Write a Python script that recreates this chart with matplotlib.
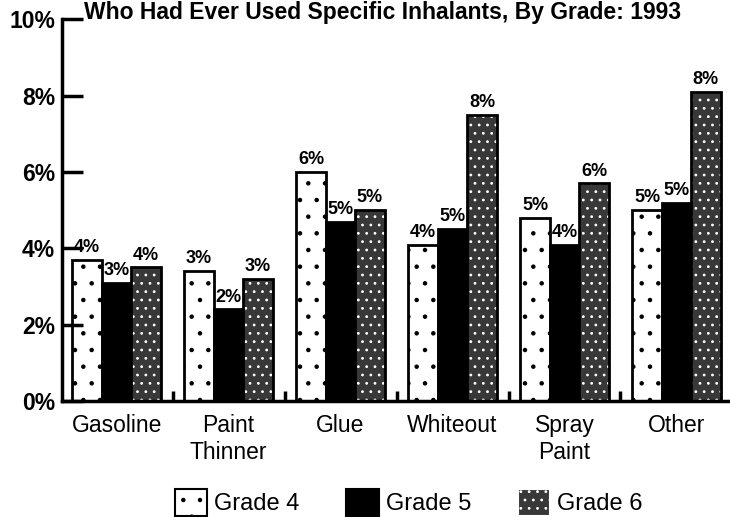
import numpy as np
import matplotlib.pyplot as plt
from matplotlib.patches import Patch

plt.rcParams['font.family'] = ['Liberation Sans', 'DejaVu Sans']
plt.rcParams['hatch.linewidth'] = 0.8

# ==== Data ====
title = "Who Had Ever Used Specific Inhalants, By Grade: 1993"
categories = ["Gasoline", "Paint\nThinner", "Glue", "Whiteout", "Spray\nPaint", "Other"]
grades = ["Grade 4", "Grade 5", "Grade 6"]
grade4 = [3.7, 3.4, 6.0, 4.1, 4.8, 5.0]
grade5 = [3.1, 2.4, 4.7, 4.5, 4.1, 5.2]
grade6 = [3.5, 3.2, 5.0, 7.5, 5.7, 8.1]
yticks = [0, 2, 4, 6, 8, 10]
# ===============

series = [grade4, grade5, grade6]
faces = ['white', 'black', '#383838']
hatches = ['.', None, '..']
hatch_cols = ['black', 'black', 'white']

fig = plt.figure(figsize=(7.3, 5.17), dpi=100)
ax = fig.add_axes([0.085, 0.224, 0.915, 0.739])

x = np.arange(len(categories))
width = 0.263
offsets = [-width, 0, width]

handles = []
for vals, face, hatch, hc, off, name in zip(series, faces, hatches, hatch_cols, offsets, grades):
    # fill + hatch (hatch colour follows edgecolor), then a black outline on top
    ax.bar(x + off, vals, width, color=face, hatch=hatch, edgecolor=hc, linewidth=0)
    ax.bar(x + off, vals, width, fill=False, edgecolor='black', linewidth=2)
    for xi, v in zip(x + off, vals):
        ax.text(xi, v + 0.1, f"{int(v + 0.5)}%", ha='center', va='bottom',
                fontsize=13, fontweight='bold')
    handles.append(Patch(facecolor=face, hatch=hatch, edgecolor=hc if hatch else 'black',
                         linewidth=1.5, label=name))

ax.set_xlim(-0.487, 5.478)
ax.set_ylim(0, 10)
ax.set_yticks(yticks)
ax.set_yticklabels([f"{t}%" for t in yticks], fontsize=16.5, fontweight='bold')
ax.tick_params(axis='y', direction='in', length=15, width=2.5, pad=5)
ax.set_xticks(x)
ax.set_xticklabels(categories, fontsize=16.5, linespacing=1.25)
ax.tick_params(axis='x', length=0, pad=9)
ax.set_xticks(x[:-1] + 0.5, minor=True)
ax.tick_params(axis='x', which='minor', direction='in', length=7, width=2.5)

for side in ['top', 'right']:
    ax.spines[side].set_visible(False)
for side in ['left', 'bottom']:
    ax.spines[side].set_linewidth(2.5)

fig.text(0.524, 0.998, title, ha='center', va='top', fontsize=16.5,
         fontweight='bold')

fig.legend(handles=handles, loc='center', bbox_to_anchor=(0.56, 0.028), ncol=3,
           frameon=False, fontsize=17, handlelength=1.36, handleheight=1.4,
           handletextpad=0.3, columnspacing=2.0, borderpad=0.1)

fig.savefig("out.png", dpi=100)
